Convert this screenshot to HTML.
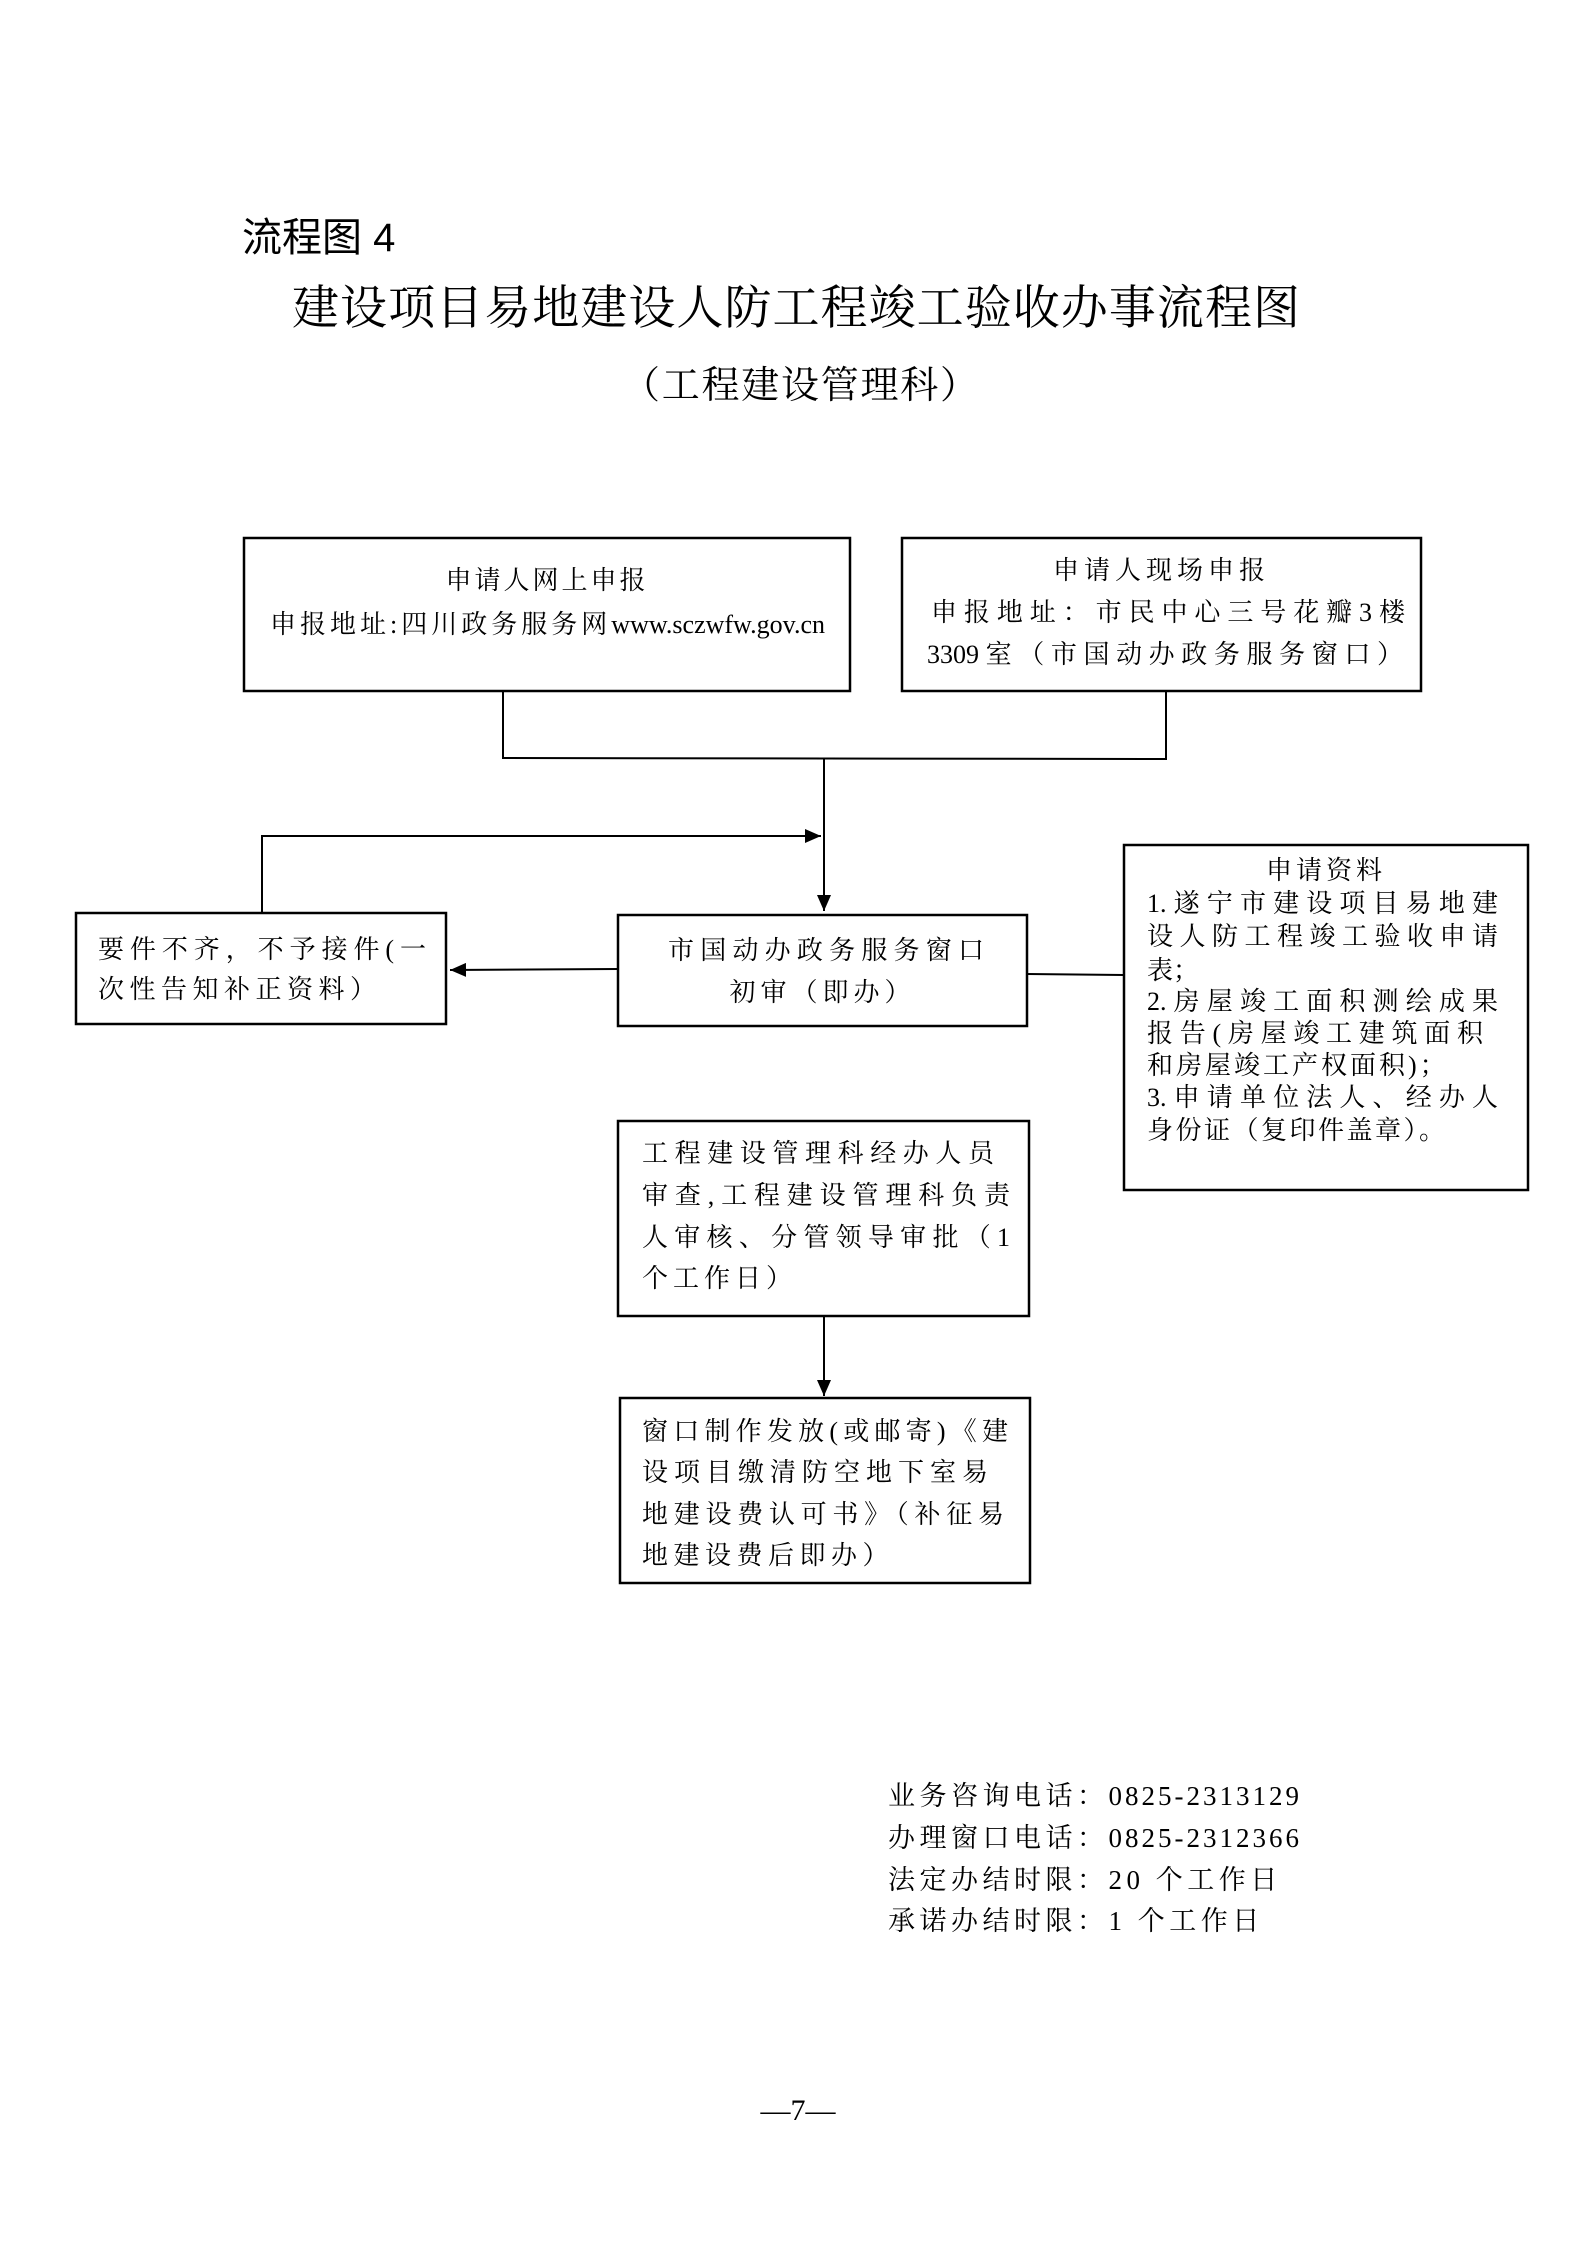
<!DOCTYPE html>
<html><head><meta charset="utf-8"><style>
body{margin:0;width:1587px;height:2245px;background:#fff;position:relative;overflow:hidden;font-family:"Liberation Serif","Noto Serif CJK SC",serif;color:#000}
.t{position:absolute;white-space:nowrap;line-height:1}
.b{font-size:26px}
.j{text-align:justify;text-align-last:justify}
svg{position:absolute;left:0;top:0}
</style></head><body>
<svg width="1587" height="2245" viewBox="0 0 1587 2245">
<defs><marker id="a2" markerWidth="16" markerHeight="14" refX="16" refY="7" orient="auto" markerUnits="userSpaceOnUse"><path d="M0,0 L16,7 L0,14 z" fill="#000"/></marker></defs>
<g fill="none" stroke="#000" stroke-width="2.5">
<rect x="244" y="538" width="606" height="153"/>
<rect x="902" y="538" width="519" height="153"/>
<rect x="76" y="913" width="370" height="111"/>
<rect x="618" y="915" width="409" height="111"/>
<rect x="1124" y="845" width="404" height="345"/>
<rect x="618" y="1121" width="411" height="195"/>
<rect x="620" y="1398" width="410" height="185"/>
</g>
<g fill="none" stroke="#000" stroke-width="2">
<polyline points="503,691 503,758 1166,759 1166,691"/>
<line x1="824" y1="758" x2="824" y2="911" marker-end="url(#a2)"/>
<polyline points="262,913 262,836 821,836" marker-end="url(#a2)"/>
<line x1="618" y1="969" x2="450" y2="970" marker-end="url(#a2)"/>
<line x1="1027" y1="974" x2="1124" y2="975"/>
<line x1="824" y1="1316" x2="824" y2="1396" marker-end="url(#a2)"/>
</g>
</svg>
<div class="t" style="left:242px;top:218px;font-size:40px;font-family:'Liberation Sans','Noto Sans CJK SC',sans-serif">流程图 4</div>
<div class="t" style="left:292px;top:286px;width:1008px;font-size:47px"><div style="text-align:justify;text-align-last:justify">建设项目易地建设人防工程竣工验收办事流程图</div></div>
<div class="t" style="left:622px;top:367px;width:356px;font-size:38px;text-align:justify;text-align-last:justify">（工程建设管理科）</div>

<div class="t b" style="left:244px;width:606px;top:568px;text-align:center;letter-spacing:3px">申请人网上申报</div>
<div class="t b j" style="left:270px;width:555px;top:612px">申报地址:四川政务服务网www.sczwfw.gov.cn</div>

<div class="t b" style="left:902px;width:519px;top:558px;text-align:center;letter-spacing:5px">申请人现场申报</div>
<div class="t b j" style="left:931px;width:474px;top:600px">申报地址：市民中心三号花瓣3楼</div>
<div class="t b j" style="left:927px;width:476px;top:642px">3309室（市国动办政务服务窗口）</div>

<div class="t b j" style="left:98px;width:328px;top:937px">要件不齐，不予接件(一</div>
<div class="t b" style="left:98px;top:977px;letter-spacing:5.5px">次性告知补正资料）</div>

<div class="t b j" style="left:668px;width:316px;top:938px">市国动办政务服务窗口</div>
<div class="t b" style="left:618px;width:409px;top:980px;text-align:center;letter-spacing:5px">初审（即办）</div>

<div class="t b" style="left:1124px;width:404px;top:858px;text-align:center;letter-spacing:4px">申请资料</div>
<div class="t b j" style="left:1147px;width:351px;top:891px">1.遂宁市建设项目易地建</div>
<div class="t b j" style="left:1147px;width:351px;top:924px">设人防工程竣工验收申请</div>
<div class="t b" style="left:1147px;top:958px">表；</div>
<div class="t b j" style="left:1147px;width:351px;top:989px">2.房屋竣工面积测绘成果</div>
<div class="t b j" style="left:1147px;width:336px;top:1021px">报告(房屋竣工建筑面积</div>
<div class="t b" style="left:1147px;top:1053px;letter-spacing:3px">和房屋竣工产权面积)；</div>
<div class="t b j" style="left:1147px;width:351px;top:1085px">3.申请单位法人、经办人</div>
<div class="t b" style="left:1147px;top:1118px;letter-spacing:2.5px">身份证（复印件盖章）。</div>

<div class="t b j" style="left:642px;width:352px;top:1141px">工程建设管理科经办人员</div>
<div class="t b j" style="left:642px;width:368px;top:1183px">审查,工程建设管理科负责</div>
<div class="t b j" style="left:642px;width:368px;top:1225px">人审核、分管领导审批（1</div>
<div class="t b" style="left:642px;top:1266px;letter-spacing:5px">个工作日）</div>

<div class="t b j" style="left:642px;width:366px;top:1419px">窗口制作发放(或邮寄)《建</div>
<div class="t b j" style="left:642px;width:346px;top:1460px">设项目缴清防空地下室易</div>
<div class="t b j" style="left:642px;width:362px;top:1502px">地建设费认可书》（补征易</div>
<div class="t b" style="left:642px;top:1543px;letter-spacing:5.5px">地建设费后即办）</div>

<div class="t" style="left:888px;top:1783px;font-size:27px;letter-spacing:4.5px">业务咨询电话：<span style="letter-spacing:3px">0825-2313129</span></div>
<div class="t" style="left:888px;top:1825px;font-size:27px;letter-spacing:4.5px">办理窗口电话：<span style="letter-spacing:3px">0825-2312366</span></div>
<div class="t" style="left:888px;top:1867px;font-size:27px;letter-spacing:4.5px">法定办结时限：20 个工作日</div>
<div class="t" style="left:888px;top:1908px;font-size:27px;letter-spacing:4.5px">承诺办结时限：1 个工作日</div>

<div class="t" style="left:748px;top:2096px;width:100px;text-align:center;font-size:30px">—7—</div>
</body></html>
